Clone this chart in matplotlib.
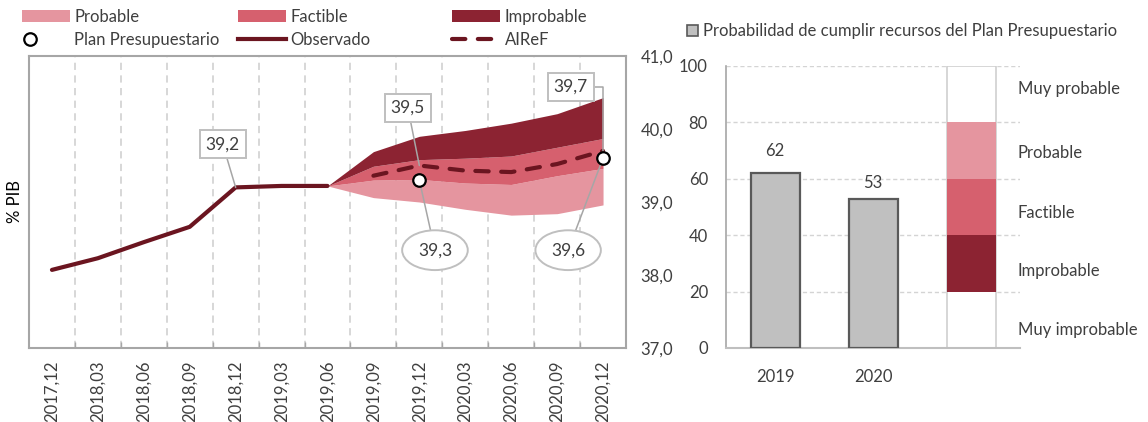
import matplotlib
matplotlib.use("Agg")
import numpy as np
import matplotlib.pyplot as plt
from matplotlib.patches import Patch
from matplotlib.lines import Line2D
from matplotlib.legend_handler import HandlerLine2D
from matplotlib.transforms import blended_transform_factory

plt.rcParams['font.family'] = ['Lato', 'DejaVu Sans']
TEXT = '#3F3F3F'
plt.rcParams['text.color'] = TEXT
plt.rcParams['xtick.color'] = TEXT
plt.rcParams['ytick.color'] = TEXT

# ---- data: resources (% of GDP), quarterly ----
periods = ["2017,12", "2018,03", "2018,06", "2018,09", "2018,12", "2019,03",
           "2019,06", "2019,09", "2019,12", "2020,03", "2020,06", "2020,09",
           "2020,12"]
observed = [38.07, 38.23, 38.45, 38.66, 39.20, 39.22, 39.22]

fan_start = "2019,06"
fan_low = [39.22, 39.06, 39.00, 38.90, 38.82, 38.84, 38.96]
fan_probable_top = [39.22, 39.30, 39.31, 39.26, 39.24, 39.36, 39.46]
fan_factible_top = [39.22, 39.49, 39.58, 39.60, 39.63, 39.75, 39.87]
fan_high = [39.22, 39.69, 39.90, 39.98, 40.08, 40.21, 40.43]

airef_start = "2019,09"
airef = [39.36, 39.50, 39.43, 39.41, 39.52, 39.70]

plan_periods = ["2019,12", "2020,12"]
plan = [39.3, 39.6]

# ---- data: probability of meeting budget-plan resources ----
bar_years = ["2019", "2020"]
bar_prob = [62, 53]
band_names = ["Muy improbable", "Improbable", "Factible", "Probable", "Muy probable"]
band_limits = [0, 20, 40, 60, 80, 100]

C_PROB = '#E5959F'
C_FACT = '#D6606E'
C_IMPR = '#8C2332'
C_LINE = '#6B1520'
FRAME = '#A6A6A6'
GRID = '#D4D4D4'

fig = plt.figure(figsize=(11.48, 4.22), dpi=100)
W, H = 1148.0, 422.0


def rect(left, top, right, bottom):
    return [left / W, 1 - bottom / H, (right - left) / W, (bottom - top) / H]


class MarkerAtLeft(HandlerLine2D):
    """Legend handler that puts the single marker near the left of the handle."""

    def get_xdata(self, legend, xdescent, ydescent, width, height, fontsize):
        # a single marker is drawn at the midpoint of this span
        xdata = np.array([-xdescent, -xdescent + 0.34 * width])
        return xdata, xdata


# ================= left panel: fan chart =================
ax = fig.add_axes(rect(29, 56, 626, 348))
x = np.arange(len(periods))
i0 = periods.index(fan_start)
xf = x[i0:i0 + len(fan_low)]
ax.fill_between(xf, fan_low, fan_probable_top, color=C_PROB, lw=0, zorder=2)
ax.fill_between(xf, fan_probable_top, fan_factible_top, color=C_FACT, lw=0, zorder=2)
ax.fill_between(xf, fan_factible_top, fan_high, color=C_IMPR, lw=0, zorder=2)

ax.plot(x[:len(observed)], observed, color=C_LINE, lw=3, zorder=3,
        solid_capstyle='round')
ia = periods.index(airef_start)
ax.plot(x[ia:ia + len(airef)], airef, color=C_LINE, lw=3, zorder=4,
        dashes=(3.2, 3.0), dash_capstyle='round')
xp = [periods.index(p) for p in plan_periods]
ax.plot(xp, plan, ls='none', marker='o', ms=9, mfc='white', mec='black',
        mew=1.6, zorder=7)

ax.set_xlim(-0.5, len(periods) - 0.5)
ax.set_ylim(37, 41)
ax.set_xticks(x, labels=periods, rotation=90)
ax.set_xticks(np.arange(len(periods) - 1) + 0.5, minor=True)
ax.tick_params(axis='x', which='major', length=0, pad=9, labelsize=12)
ax.tick_params(axis='x', which='minor', direction='in', length=4,
               color=FRAME, width=1)
ax.grid(which='minor', axis='x', color=GRID, ls=(0, (4, 3)), lw=1.3, zorder=0)

yt = [37, 38, 39, 40, 41]
ax.set_yticks(yt, labels=[f"{v:.1f}".replace('.', ',') for v in yt])
ax.yaxis.tick_right()
ax.tick_params(axis='y', length=0, pad=34, labelsize=12)
for t in ax.yaxis.get_major_ticks():
    t.label2.set_horizontalalignment('right')
ax.yaxis.set_label_position('left')
ax.set_ylabel('% PIB', fontsize=12, labelpad=4)
for s in ax.spines.values():
    s.set_color(FRAME)
    s.set_linewidth(1.5)

box = dict(boxstyle='square,pad=0.35', fc='white', ec='#BFBFBF', lw=1.4)
ell = dict(boxstyle='ellipse,pad=0.35', fc='white', ec='#BFBFBF', lw=1.4)
lead = dict(arrowstyle='-', color=FRAME, lw=1.1, shrinkA=0, shrinkB=0)


def lab(v):
    return f"{v:.1f}".replace('.', ',')


i_peak = periods.index("2018,12")
i_dec19 = periods.index("2019,12")
ax.annotate(lab(observed[i_peak]), xy=(i_peak, observed[i_peak]),
            xytext=(3.72, 39.79), ha='center', va='center', fontsize=12.5,
            bbox=box, arrowprops=lead, zorder=5)
ax.annotate(lab(airef[i_dec19 - ia]), xy=(i_dec19, airef[i_dec19 - ia]),
            xytext=(7.75, 40.29), ha='center', va='center', fontsize=12.5,
            bbox=box, arrowprops=lead, zorder=5)
ax.annotate(lab(airef[-1]), xy=(len(periods) - 1, airef[-1]),
            xytext=(11.30, 40.58), ha='center', va='center', fontsize=12.5,
            bbox=box, zorder=5,
            arrowprops=dict(lead, connectionstyle='angle,angleA=0,angleB=90,rad=0'))
ax.annotate(lab(plan[0]), xy=(xp[0], plan[0]), xytext=(8.34, 38.34),
            ha='center', va='center', fontsize=12.5, bbox=ell,
            arrowprops=lead, zorder=5)
ax.annotate(lab(plan[1]), xy=(xp[1], plan[1]), xytext=(11.24, 38.34),
            ha='center', va='center', fontsize=12.5, bbox=ell,
            arrowprops=lead, zorder=5)

# legend, three columns of two entries
plan_handle = Line2D([], [], ls='none', marker='o', ms=9, mfc='white',
                     mec='black', mew=1.6)
cols = [
    ([Patch(fc=C_PROB, ec='none'), plan_handle],
     ["Probable", "Plan Presupuestario"], 22),
    ([Patch(fc=C_FACT, ec='none'),
      Line2D([], [], color=C_LINE, lw=3)],
     ["Factible", "Observado"], 238),
    ([Patch(fc=C_IMPR, ec='none'),
      Line2D([], [], color=C_LINE, lw=3, dashes=(3.2, 3.0), dash_capstyle='round')],
     ["Improbable", "AIReF"], 452),
]
for handles, labels, px in cols:
    fig.legend(handles, labels, loc='upper left',
               bbox_to_anchor=(px / W, 1 - 9 / H), frameon=False, fontsize=12,
               handlelength=2.9, handleheight=0.7, handletextpad=0.25,
               labelspacing=0.42, borderpad=0, borderaxespad=0,
               handler_map={plan_handle: MarkerAtLeft()})

# ================= right panel: probability bars =================
ax2 = fig.add_axes(rect(726, 66, 1020, 348))
xb = np.arange(len(bar_years))
ax2.bar(xb, bar_prob, width=0.5, color='#C0C0C0', edgecolor='#595959',
        lw=1.6, zorder=3)
for xi, v, dy in zip(xb, bar_prob, [5, 2.5]):
    ax2.text(xi, v + dy, f"{v}", ha='center', va='bottom', fontsize=12)

xs = len(bar_years)
ax2.bar(xs, band_limits[-1], width=0.5, color='white', edgecolor='#CFCFCF',
        lw=1.2, zorder=2)
for lo, hi, c in zip(band_limits[1:4], band_limits[2:5], [C_IMPR, C_FACT, C_PROB]):
    ax2.bar(xs, hi - lo, bottom=lo, width=0.5, color=c, lw=0, zorder=3)

ax2.set_xlim(-0.5, xs + 0.5)
ax2.set_ylim(0, 100)
ax2.set_xticks(list(xb) + [xs], labels=bar_years + [""])
ax2.set_yticks(range(0, 101, 20))
ax2.tick_params(axis='x', length=0, pad=15, labelsize=12)
ax2.tick_params(axis='y', length=0, pad=13, labelsize=12)
ax2.grid(axis='y', color=GRID, ls=(0, (3, 2)), lw=1, zorder=0)
ax2.set_axisbelow(True)
for s in ['top', 'right']:
    ax2.spines[s].set_visible(False)
ax2.spines['left'].set_color(FRAME)
ax2.spines['bottom'].set_color('#BFBFBF')
ax2.spines['left'].set_linewidth(1.2)
ax2.spines['bottom'].set_linewidth(1.5)

tr = blended_transform_factory(ax2.transAxes, ax2.transData)
label_y = [6.4, 27.3, 47.9, 69.1, 91.8]
for name, yy in zip(band_names, label_y):
    ax2.text(0.993, yy, name, transform=tr, ha='left', va='center',
             fontsize=12, clip_on=False)

fig.legend([Patch(fc='#C0C0C0', ec='#595959', lw=1.2)],
           ["Probabilidad de cumplir recursos del Plan Presupuestario"],
           loc='upper left', bbox_to_anchor=(687 / W, 1 - 23 / H),
           frameon=False, fontsize=12, handlelength=0.65, handleheight=0.65,
           handletextpad=0.3, borderpad=0, borderaxespad=0)

fig.savefig("out.png", dpi=100)
